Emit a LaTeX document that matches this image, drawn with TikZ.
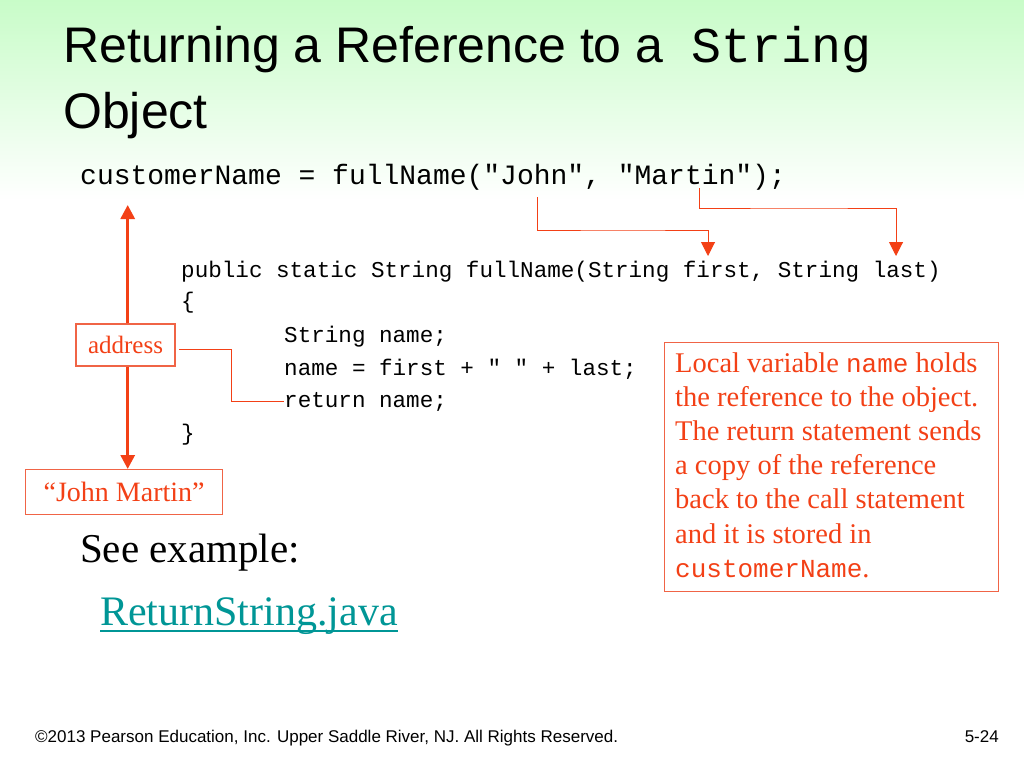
\documentclass[tikz,border=0pt]{standalone}
\usepackage{fontspec}
\setmainfont{Liberation Serif}
\setsansfont{Liberation Sans}
\setmonofont{Liberation Mono}
\usetikzlibrary{arrows.meta}
\definecolor{hot}{RGB}{243,64,22}
\definecolor{boxline}{RGB}{240,100,70}
\definecolor{teal}{RGB}{0,150,150}
\definecolor{bggreen}{RGB}{200,252,200}
\tikzset{
  code/.style={anchor=base west, inner sep=0pt, font=\ttfamily\fontsize{22.6}{22.6}\selectfont},
  thin link/.style={draw=hot, line width=1pt},
  thin arrow/.style={draw=hot, line width=1pt, -{Triangle[width=14pt,length=14pt]}},
  thick arrow/.style={draw=hot, line width=3pt, -{Triangle[width=14pt,length=14pt]}},
  redbox/.style={draw=boxline, line width=1.2pt, text=hot, inner sep=0pt},
  titletext/.style={anchor=base west, inner sep=0pt, font=\sffamily\fontsize{50}{50}\selectfont},
}
\begin{document}
\begin{tikzpicture}[x=1pt,y=-1pt]
\useasboundingbox (0,0) rectangle (1024,768);
\shade[top color=bggreen, bottom color=white] (0,0) rectangle (1024,200);
\fill[white] (0,200) rectangle (1024,768);
% title
\node[titletext] (title1) at (63,63)
  {Returning a Reference to a\hspace{14pt} {\ttfamily\fontsize{50}{50}\selectfont String}};
\node[titletext] (title2) at (63,128) {Object};
% call line
\node[anchor=base west, inner sep=0pt, font=\ttfamily\fontsize{28}{28}\selectfont] (call) at (80,184)
  {customerName = fullName("John", "Martin");};
% method
\node[code] (sig) at (181,277) {public static String fullName(String first, String last)};
\node[code] (ob) at (181,308) {\{};
\node[code] (decl) at (284,342) {String name;};
\node[code] (assign) at (284,375) {name = first + " " + last;};
\node[code] (ret) at (284,407) {return name;};
\node[code] (cb) at (181,440) {\}};
% arrows from arguments
\coordinate (john) at (537,197);
\coordinate (first) at (708,256);
\coordinate (martin) at (699,188);
\coordinate (last) at (896,256);
\draw[thin arrow] (john) |- (623,230) -| (first);
\draw[thin arrow] (martin) |- (800,208) -| (last);
% address box
\node[redbox, minimum width=99pt, minimum height=42pt, font=\fontsize{25}{25}\selectfont] (addr) at (125.5,345) {address};
\node[redbox, minimum width=197pt, minimum height=45pt, font=\fontsize{28}{28}\selectfont, anchor=north west] (jm) at (25,469) {``John Martin''};
\coordinate (callvar) at (127.7,205);
\draw[thick arrow] (addr.north -| callvar) -- (callvar);
\draw[thick arrow] (addr.south -| callvar) -- (jm.north -| callvar);
\draw[thin link] (179,349) -- (231,349) |- (ret.west);
% explanation box
\node[redbox, anchor=north west, minimum width=334pt, minimum height=249pt] (expl) at (664,342) {};
\node[anchor=base west, inner sep=0pt, text=hot, font=\fontsize{28.5}{34.2}\selectfont] (expltext) at (675,372)
  {\begin{tabular}[t]{@{}l@{}}
   Local variable {\ttfamily\fontsize{26}{26}\selectfont name} holds\\
   the reference to the object.\\
   The return statement sends\\
   a copy of the reference\\
   back to the call statement\\
   and it is stored in\\
   {\ttfamily\fontsize{26}{26}\selectfont customerName}.
   \end{tabular}};
% see example
\node[anchor=base west, inner sep=0pt, font=\fontsize{41}{41}\selectfont] (see) at (80,562) {See example:};
\node[anchor=base west, inner sep=0pt, text=teal, font=\fontsize{42}{42}\selectfont] (link) at (100,625) {ReturnString.java};
\draw[teal, line width=1.5pt] (link.base west) ++(0,6) -- ([yshift=-6pt]link.base east);
% footer
\node[anchor=base west, inner sep=0pt, font=\sffamily\fontsize{17}{17}\selectfont] (foot) at (35,742)
  {©2013 Pearson Education, Inc. Upper Saddle River, NJ. All Rights Reserved.};
\node[anchor=base east, inner sep=0pt, font=\sffamily\fontsize{17}{17}\selectfont] (page) at (999,742) {5-24};
\end{tikzpicture}
\end{document}
